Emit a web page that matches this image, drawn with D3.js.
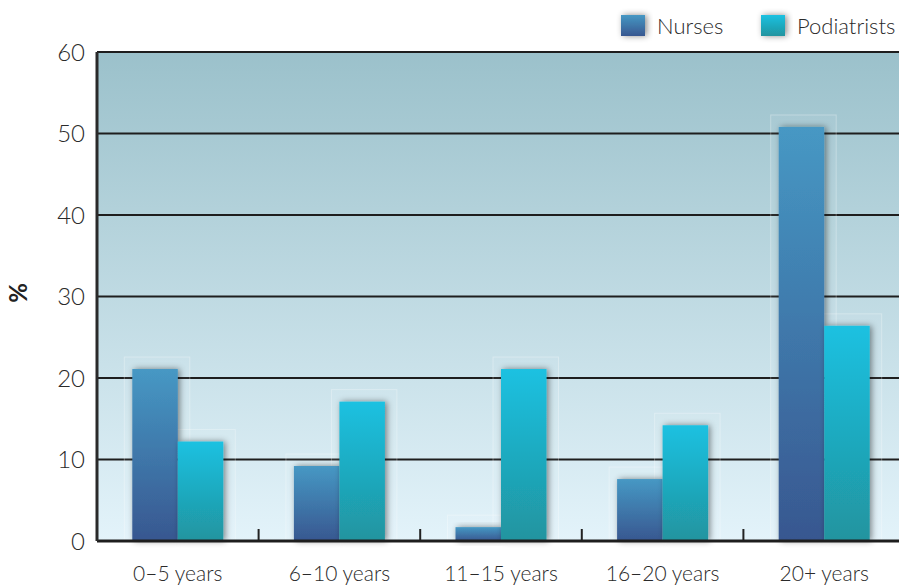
<!DOCTYPE html>
<html>
<head>
<meta charset="utf-8">
<script src="https://cdn.jsdelivr.net/npm/d3@7"></script>
<style>
  body { margin: 0; background: #fff; }
  svg text { font-family: Lato, "Open Sans", sans-serif; font-weight: 300; fill: #2a2a2a; }
</style>
</head>
<body>
<div id="chart"></div>
<script>
const categories = ['0–5 years', '6–10 years', '11–15 years', '16–20 years', '20+ years'];
const seriesNames = ['Nurses', 'Podiatrists'];
const nurses = [21.1, 9.2, 1.7, 7.6, 50.8];
const podiatrists = [12.2, 17.1, 21.1, 14.2, 26.4];
const yTicks = [0, 10, 20, 30, 40, 50, 60];

const W = 899, H = 585;
const margin = { top: 52, right: 0, bottom: 44, left: 97 };
const width = W - margin.left - margin.right;
const height = H - margin.top - margin.bottom;
const bandSpan = 808; // category bands run a bit past the right edge

const svg = d3.select('#chart').append('svg')
  .attr('width', W)
  .attr('height', H);

const defs = svg.append('defs');
const bg = defs.append('linearGradient').attr('id', 'bg').attr('x1', 0).attr('y1', 0).attr('x2', 0).attr('y2', 1);
bg.append('stop').attr('offset', '0%').attr('stop-color', '#9bc1cb');
bg.append('stop').attr('offset', '100%').attr('stop-color', '#e3f3fa');

const grads = [
  ['gN', '#4698c4', '#385790'],
  ['gP', '#1bc1e1', '#21949f'],
];
grads.forEach(([id, top, bot]) => {
  const g = defs.append('linearGradient').attr('id', id).attr('x1', 0).attr('y1', 0).attr('x2', 0).attr('y2', 1);
  g.append('stop').attr('offset', '0%').attr('stop-color', top);
  g.append('stop').attr('offset', '100%').attr('stop-color', bot);
});
const f = defs.append('filter').attr('id', 'shadow').attr('x', '-30%').attr('y', '-30%').attr('width', '160%').attr('height', '160%');
f.append('feDropShadow').attr('dx', 2).attr('dy', 0).attr('stdDeviation', 3).attr('flood-color', '#000').attr('flood-opacity', 0.45);

const g = svg.append('g').attr('transform', `translate(${margin.left},${margin.top})`);

const y = d3.scaleLinear().domain([0, 60]).range([height, 0]);
const x0 = d3.scaleBand().domain(categories).range([0, bandSpan]);
const x1 = d3.scaleBand().domain(seriesNames).range([x0.bandwidth() / 2 - 45.5, x0.bandwidth() / 2 + 45.5]);

g.append('rect').attr('width', width).attr('height', height).attr('fill', 'url(#bg)');

// gridlines
g.selectAll('.grid').data(yTicks.filter(d => d > 0)).enter().append('line')
  .attr('x1', 0).attr('x2', width)
  .attr('y1', d => y(d)).attr('y2', d => y(d))
  .attr('stroke', '#1e1e1e').attr('stroke-width', 2);

// category separator ticks
g.selectAll('.sep').data(categories.slice(1)).enter().append('line')
  .attr('x1', d => x0(d)).attr('x2', d => x0(d))
  .attr('y1', height).attr('y2', height - 12)
  .attr('stroke', '#222').attr('stroke-width', 2);

const data = categories.map((c, i) => ({ cat: c, vals: [
  { s: 'Nurses', v: nurses[i], fill: 'url(#gN)' },
  { s: 'Podiatrists', v: podiatrists[i], fill: 'url(#gP)' },
]}));

const groups = g.selectAll('.grp').data(data).enter().append('g')
  .attr('transform', d => `translate(${x0(d.cat)},0)`);

// faint ghost boxes behind bars
groups.selectAll('.ghost').data(d => d.vals).enter().append('rect')
  .attr('x', d => x1(d.s) - 8)
  .attr('y', d => y(d.v) - 12)
  .attr('width', x1.bandwidth() + 20)
  .attr('height', d => height - y(d.v) + 14)
  .attr('fill', 'rgba(255,255,255,0.05)')
  .attr('stroke', 'rgba(255,255,255,0.3)')
  .attr('stroke-width', 1);

groups.selectAll('.bar').data(d => d.vals).enter().append('rect')
  .attr('x', d => x1(d.s))
  .attr('y', d => y(d.v))
  .attr('width', x1.bandwidth())
  .attr('height', d => height - y(d.v))
  .attr('fill', d => d.fill)
  .attr('filter', 'url(#shadow)');

// axes lines
g.append('line').attr('x1', 0).attr('x2', width).attr('y1', height).attr('y2', height)
  .attr('stroke', '#1e1e1e').attr('stroke-width', 3);
g.append('line').attr('x1', 0).attr('x2', 0).attr('y1', 0).attr('y2', height)
  .attr('stroke', '#2a2a2a').attr('stroke-width', 3);

// y labels
g.selectAll('.ylab').data(yTicks).enter().append('text')
  .attr('x', -12)
  .attr('y', d => y(d))
  .attr('dy', '0.36em')
  .attr('text-anchor', 'end')
  .attr('font-size', 24)
  .text(d => d);

// x labels
g.selectAll('.xlab').data(categories).enter().append('text')
  .attr('x', d => x0(d) + x0.bandwidth() / 2)
  .attr('y', height + 40)
  .attr('text-anchor', 'middle')
  .attr('font-size', 21)
  .text(d => d);

// % label
svg.append('text')
  .attr('transform', 'translate(27,293) rotate(-90)')
  .attr('text-anchor', 'middle')
  .attr('font-size', 24)
  .style('font-weight', 700)
  .style('fill', '#222')
  .text('%');

// legend
const legend = svg.append('g');
const lx = [621, 761];
seriesNames.forEach((s, i) => {
  legend.append('rect')
    .attr('x', lx[i]).attr('y', 15).attr('width', 24).attr('height', 21)
    .attr('fill', i === 0 ? 'url(#gN)' : 'url(#gP)')
    .attr('filter', 'url(#shadow)');
  legend.append('text')
    .attr('x', lx[i] + 36).attr('y', 34)
    .attr('font-size', 22)
    .text(s);
});
</script>
</body>
</html>
